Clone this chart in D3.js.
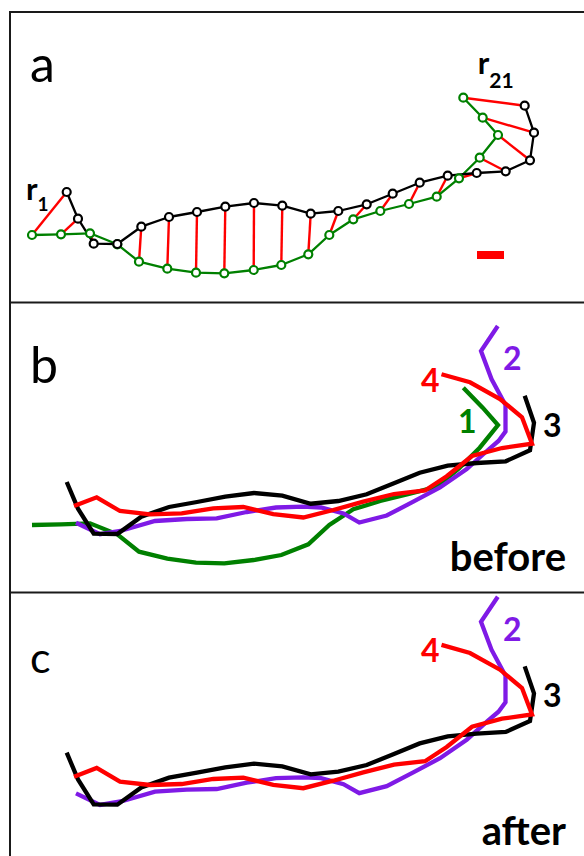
<!DOCTYPE html>
<html>
<head>
<meta charset="utf-8">
<script src="https://cdn.jsdelivr.net/npm/d3@7"></script>
<style>
  html, body { margin: 0; padding: 0; background: #fff; }
  svg { display: block; }
</style>
</head>
<body>
<div id="chart"></div>
<script>
// Contour coordinates, in picture units (x to the right, y upward from panel bottom)
const curve1 = [ // green, reference contour
  [22, 67], [51, 67.7], [80, 68.7], [107.3, 57.7], [129, 40.3], [157.3, 33.3], [186, 29.3],
  [214.3, 28.7], [243.7, 32], [271.3, 37], [298.3, 47.7], [319.3, 67], [343.3, 82.7],
  [370.3, 91], [399, 98], [426.7, 105.3], [449, 123.7], [469.7, 144.3], [488, 167],
  [472.7, 184.3], [453.3, 204.3]
];
const curve3 = [ // black
  [56.7, 110], [68, 83.3], [83.7, 58.3], [107.3, 58], [131.3, 75.3], [159, 85], [187, 90],
  [215.3, 95.3], [244, 99], [272.3, 96.3], [300.7, 88.3], [328.3, 91], [356.7, 97.7],
  [382.7, 108.3], [409.7, 119.3], [437.7, 126.3], [466.7, 129], [495.7, 130.7], [520, 141.7],
  [524, 169.3], [514.7, 196.3]
];
const curve2 = [ // purple
  [66, 69.3], [90, 57.8], [112, 61.5], [145, 71], [176.7, 73], [206.7, 73.7], [236.7, 80],
  [266, 84.5], [293, 85.3], [311, 84.5], [333.5, 78.5], [349.3, 69.5], [376.7, 76.5],
  [403.3, 90.3], [430, 104.5], [456.7, 123], [478, 142], [488.5, 151], [495.5, 160.5],
  [495.5, 187], [481.5, 213], [471, 241], [487.8, 266]
];
const curve4 = [ // red
  [64, 86], [86.7, 94.7], [110, 81], [140, 77.7], [171.7, 78.7], [203.3, 83.7], [233.3, 85],
  [263.3, 77.8], [293.3, 74.5], [323.3, 82], [353.3, 90.3], [384, 98], [415, 101.5],
  [436.7, 115.7], [462, 136], [492, 144], [522, 148.3], [512, 174.7], [490, 193],
  [460, 209.7], [431.5, 217.8]
];
const curveLabels = [
  { key: "1", text: "1", pos: [448, 159] },
  { key: "2", text: "2", pos: [493, 222] },
  { key: "4", text: "4", pos: [411, 200.3] },
  { key: "3", text: "3", pos: [533, 155.3] }
];
const scaleBar = { x: 467, length: 27, y: 47 };
const endLabels = [
  { sub: "1", pos: [16, 102] },
  { sub: "21", pos: [467.7, 228] }
];

const W = 584, H = 856;
const COLORS = { "1": "#008000", "2": "#7f1ae6", "3": "#000000", "4": "#ff0000" };
const FONT = "Lato, 'Open Sans', sans-serif";

const panels = [
  { id: "a", top: 12, bottom: 302.5, base: 302, letterY: 82, letterSize: 50 },
  { id: "b", top: 302.5, bottom: 592.5, base: 592, letterY: 383, letterSize: 50,
    curves: ["1", "2", "3", "4"], tag: "before", tagY: 571 },
  { id: "c", top: 592.5, bottom: 856, base: 862.7, letterY: 673, letterSize: 43,
    curves: ["2", "3", "4"], tag: "after", tagY: 845 }
];
const curveData = { "1": curve1, "2": curve2, "3": curve3, "4": curve4 };

const svg = d3.select("#chart").append("svg")
  .attr("width", W).attr("height", H)
  .attr("viewBox", `0 0 ${W} ${H}`);

const x = d3.scaleLinear().domain([0, 574]).range([10, 584]);

panels.forEach((p) => {
  const y = d3.scaleLinear().domain([0, 290]).range([p.base, p.base - 290]);
  const line = d3.line().x((d) => x(d[0])).y((d) => y(d[1]));

  svg.append("clipPath").attr("id", "clip-" + p.id)
    .append("rect").attr("x", 10).attr("y", p.top).attr("width", W - 10).attr("height", p.bottom - p.top);

  const g = svg.append("g").attr("clip-path", `url(#clip-${p.id})`);

  if (p.id === "a") {
    // red connectors between matching points
    g.selectAll("line.link")
      .data(d3.zip(curve1, curve3))
      .join("line")
      .attr("class", "link")
      .attr("x1", (d) => x(d[0][0])).attr("y1", (d) => y(d[0][1]))
      .attr("x2", (d) => x(d[1][0])).attr("y2", (d) => y(d[1][1]))
      .attr("stroke", "#ff0000").attr("stroke-width", 2.4);

    [["1", curve1], ["3", curve3]].forEach(([k, pts]) => {
      g.append("path").datum(pts)
        .attr("d", line).attr("fill", "none")
        .attr("stroke", COLORS[k]).attr("stroke-width", 2.3)
        .attr("stroke-linejoin", "round");
    });
    [["1", curve1], ["3", curve3]].forEach(([k, pts]) => {
      g.selectAll("circle.pt" + k)
        .data(pts)
        .join("circle")
        .attr("class", "pt" + k)
        .attr("cx", (d) => x(d[0])).attr("cy", (d) => y(d[1]))
        .attr("r", 4)
        .attr("fill", "#fff")
        .attr("stroke", COLORS[k]).attr("stroke-width", 2.2);
    });

    g.append("rect")
      .attr("x", x(scaleBar.x)).attr("y", y(scaleBar.y) - 4)
      .attr("width", x(scaleBar.length) - x(0)).attr("height", 8)
      .attr("fill", "#ff0000");

    endLabels.forEach((l) => {
      const t = g.append("text")
        .attr("x", x(l.pos[0])).attr("y", y(l.pos[1]))
        .attr("font-family", FONT).attr("font-weight", "bold")
        .attr("font-size", 31).attr("fill", "#000");
      t.append("tspan").text("r");
      t.append("tspan").attr("dy", l.sub === "1" ? 11 : 14)
        .attr("font-size", l.sub === "1" ? 19 : 21).text(l.sub);
    });
  } else {
    p.curves.forEach((k) => {
      g.append("path").datum(curveData[k])
        .attr("d", line).attr("fill", "none")
        .attr("stroke", COLORS[k]).attr("stroke-width", 4.3)
        .attr("stroke-linejoin", "miter");
    });
    g.selectAll("text.curve-label")
      .data(curveLabels.filter((l) => p.curves.includes(l.key)))
      .join("text")
      .attr("class", "curve-label")
      .attr("x", (d) => x(d.pos[0])).attr("y", (d) => y(d.pos[1]))
      .attr("font-family", FONT).attr("font-weight", "bold")
      .attr("font-size", 32)
      .attr("fill", (d) => COLORS[d.key])
      .text((d) => d.text);

    g.append("text")
      .attr("x", 566).attr("y", p.tagY)
      .attr("text-anchor", "end")
      .attr("font-family", FONT).attr("font-weight", "bold")
      .attr("font-size", 40).attr("fill", "#000")
      .text(p.tag);
  }

  svg.append("text")
    .attr("x", 30).attr("y", p.letterY)
    .attr("font-family", FONT)
    .attr("font-size", p.letterSize).attr("fill", "#000")
    .text(p.id);
});

// panel frames
const frame = svg.append("g").attr("stroke", "#1a1a1a").attr("stroke-width", 2);
frame.append("line").attr("x1", 10).attr("x2", 10).attr("y1", 11).attr("y2", H);
[12, 302.5, 592.5].forEach((yy) => {
  frame.append("line").attr("x1", 9).attr("x2", W).attr("y1", yy).attr("y2", yy);
});
</script>
</body>
</html>
